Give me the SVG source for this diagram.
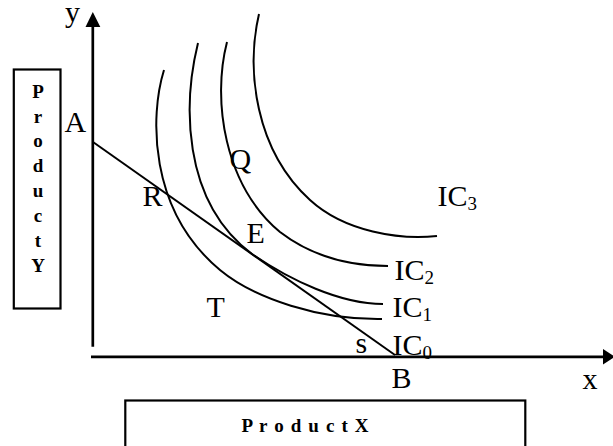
<svg xmlns="http://www.w3.org/2000/svg" width="613" height="446" viewBox="0 0 613 446">
<style>
.lbl{font-family:"Liberation Serif","Times New Roman",serif;font-size:30px;fill:#000}
.sub{font-size:19px}
.bold{font-family:"Liberation Serif","Times New Roman",serif;font-size:19px;font-weight:bold;fill:#000}
.curve{fill:none;stroke:#000;stroke-width:2}
.box{fill:#fff;stroke:#000;stroke-width:2.2}
.axis{fill:none;stroke:#000;stroke-width:2.7}
</style>
<rect width="613" height="446" fill="#fff"/>
<g id="productY">
<rect class="box" x="13.8" y="69.5" width="46.7" height="239"/>
<g class="bold" text-anchor="middle">
<text x="38" y="98">P</text>
<text x="38" y="123">r</text>
<text x="38" y="147">o</text>
<text x="38" y="172">d</text>
<text x="38" y="197">u</text>
<text x="38" y="222">c</text>
<text x="38" y="247">t</text>
<text x="38" y="272">Y</text>
</g>
</g>
<g id="productX">
<rect class="box" x="125.3" y="400.5" width="400" height="60"/>
<text class="bold" x="241.5" y="432" textLength="127" lengthAdjust="spacing">P r o d u c t X</text>
</g>
<g id="connectors">
<line class="axis" x1="92.8" y1="25" x2="92.8" y2="346.7"/>
<polygon points="92.8,12 85.5,27 100.3,27" fill="#000"/>
<line class="axis" x1="91" y1="356.8" x2="604" y2="356.8"/>
<polygon points="603,349 603,364.5 615,356.8" fill="#000"/>
<line id="budget" class="curve" x1="93" y1="142" x2="395" y2="355"/>
</g>
<g id="IC0"><path class="curve" d="M164,70 C150,115 148,210 220,270 C255,299 320,320 382,319"/></g>
<g id="IC1"><path class="curve" d="M198,43 C184,100 180,200 252,254 C290,280 340,304 383,304"/></g>
<g id="IC2"><path class="curve" d="M227,42 C212,100 224,185 280,232 C310,255 345,266 388,266"/></g>
<g id="IC3"><path class="curve" d="M259,14 C246,70 255,150 310,200 C345,232 400,240 437,236"/></g>
<g id="labels">
<text class="lbl" x="65" y="22">y</text>
<text class="lbl" x="64.5" y="132">A</text>
<text class="lbl" x="142.5" y="206">R</text>
<text class="lbl" x="229.5" y="169">Q</text>
<text class="lbl" x="246.5" y="243">E</text>
<text class="lbl" x="206.5" y="317">T</text>
<text class="lbl" x="355.5" y="353">s</text>
<text class="lbl" x="437.5" y="206">IC<tspan class="sub" dy="4">3</tspan></text>
<text class="lbl" x="394.5" y="280">IC<tspan class="sub" dy="4">2</tspan></text>
<text class="lbl" x="392.5" y="317">IC<tspan class="sub" dy="4">1</tspan></text>
<text class="lbl" x="392.5" y="355">IC<tspan class="sub" dy="4">0</tspan></text>
<text class="lbl" x="391.5" y="388">B</text>
<text class="lbl" x="582.5" y="389">x</text>
</g>
</svg>
